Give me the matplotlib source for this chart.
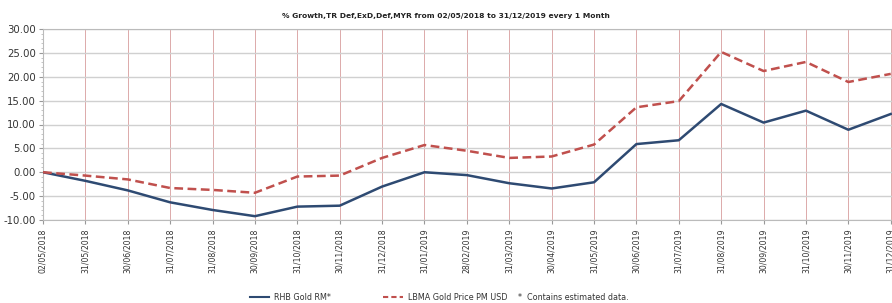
import matplotlib
matplotlib.use("Agg")
import matplotlib.pyplot as plt
from matplotlib.ticker import MultipleLocator
from matplotlib.lines import Line2D

dates = ["02/05/2018", "31/05/2018", "30/06/2018", "31/07/2018", "31/08/2018",
         "30/09/2018", "31/10/2018", "30/11/2018", "31/12/2018", "31/01/2019",
         "28/02/2019", "31/03/2019", "30/04/2019", "31/05/2019", "30/06/2019",
         "31/07/2019", "31/08/2019", "30/09/2019", "31/10/2019", "30/11/2019",
         "31/12/2019"]
rhb = [0.0, -1.8, -3.8, -6.3, -7.9, -9.2, -7.2, -7.0, -3.0, 0.0,
       -0.6, -2.3, -3.4, -2.1, 5.9, 6.7, 14.3, 10.4, 12.9, 8.9, 12.2]
lbma = [0.0, -0.7, -1.5, -3.3, -3.7, -4.3, -0.9, -0.7, 3.0, 5.7,
        4.5, 3.0, 3.3, 5.8, 13.6, 14.9, 25.2, 21.2, 23.1, 18.9, 20.6]
yticks = [-10, -5, 0, 5, 10, 15, 20, 25, 30]

W, H = 892, 303
fig = plt.figure(figsize=(W / 100, H / 100), dpi=100)
ax = fig.add_axes([43 / W, 83 / H, (W - 43) / W, 191 / H])

x = list(range(len(dates)))
ax.plot(x, rhb, color="#2e4a72", lw=1.8, zorder=3)
ax.plot(x, lbma, color="#c0504d", lw=1.8, ls=(0, (3.5, 1.8)), zorder=3)

ax.set_xlim(0, 20.03)
ax.set_ylim(-10, 30)
ax.set_xticks(x)
ax.set_xticklabels(dates, rotation=90, fontsize=5.6, color="#333333")
ax.set_yticks(yticks)
ax.set_yticklabels([f"{v:.2f}" for v in yticks], fontsize=7.3, color="#333333")
ax.yaxis.set_minor_locator(MultipleLocator(1))
ax.tick_params(axis="y", which="major", length=3, color="#999999", pad=2)
ax.tick_params(axis="y", which="minor", length=1.5, color="#bbbbbb")
ax.tick_params(axis="x", length=3, color="#999999", pad=3)

ax.grid(axis="x", color="#dcaaaa", lw=0.7)
ax.grid(axis="y", color="#d0d0d0", lw=1.0)
for s in ["left", "bottom", "top"]:
    ax.spines[s].set_color("#bbbbbb")
ax.spines["right"].set_visible(False)

fig.text(0.5, 1 - 16 / H, "% Growth,TR Def,ExD,Def,MYR from 02/05/2018 to 31/12/2019 every 1 Month",
         ha="center", va="center", fontsize=5.4, fontweight="bold", color="#222222")

ly = 1 - 297 / H
fig.add_artist(Line2D([250 / W, 269 / W], [ly, ly], color="#2e4a72", lw=1.5))
fig.text(274 / W, ly, "RHB Gold RM*", fontsize=5.8, va="center", color="#333333")
fig.add_artist(Line2D([383 / W, 403 / W], [ly, ly], color="#c0504d", lw=1.5, ls=(0, (2.5, 1.5))))
fig.text(408 / W, ly, "LBMA Gold Price PM USD", fontsize=5.8, va="center", color="#333333")
fig.text(518 / W, ly, "*  Contains estimated data.", fontsize=5.8, va="center", color="#333333")

fig.savefig("out.png", dpi=100)
